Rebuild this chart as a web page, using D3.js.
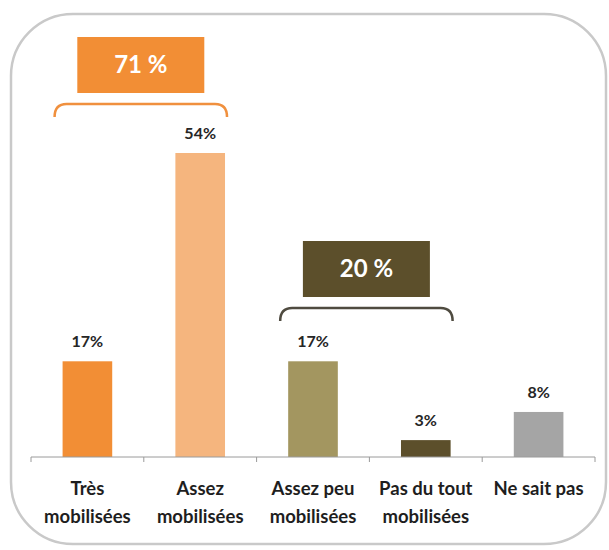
<!DOCTYPE html>
<html>
<head>
<meta charset="utf-8">
<script src="https://cdn.jsdelivr.net/npm/d3@7"></script>
<style>
  body { margin: 0; background: #fff; }
  text { font-family: Lato, "Open Sans", sans-serif; }
</style>
</head>
<body>
<div id="chart"></div>
<script>
const categories = [['Très', 'mobilisées'], ['Assez', 'mobilisées'], ['Assez peu', 'mobilisées'], ['Pas du tout', 'mobilisées'], ['Ne sait pas']]
const values = [17, 54, 17, 3, 8]
const colors = ['#F28E35', '#F5B57E', '#A39660', '#5C4F2B', '#A5A5A5']
const groups = [
  { label: '71 %', from: 0, to: 1, fill: '#F28E35', brace: '#F0903E', braceY: 104 },
  { label: '20 %', from: 2, to: 3, fill: '#5C4F2B', brace: '#4F4B40', braceY: 308 }
]

const w = 609, h = 550
const x0 = 31, x1 = 595, baseY = 457

const svg = d3.select('#chart').append('svg')
              .attr('width', w)
              .attr('height', h)

// rounded frame
svg.append('rect')
   .attr('x', 11).attr('y', 14)
   .attr('width', 595).attr('height', 530)
   .attr('rx', 62).attr('ry', 62)
   .attr('fill', 'none')
   .attr('stroke', '#c9c9c9')
   .attr('stroke-width', 2.5)

const xScale = d3.scaleBand()
                 .domain(d3.range(values.length))
                 .range([x0, x1])
                 .paddingInner(0.56)
                 .paddingOuter(0.28)

const yScale = d3.scaleLinear()
                 .domain([0, 54])
                 .range([baseY, 153])

svg.selectAll('rect.bar')
   .data(values)
   .enter()
   .append('rect')
   .attr('class', 'bar')
   .attr('x', (d, i) => xScale(i))
   .attr('y', d => yScale(d))
   .attr('width', xScale.bandwidth())
   .attr('height', d => baseY - yScale(d))
   .attr('fill', (d, i) => colors[i])

// axis line + ticks at category boundaries
const step = (x1 - x0) / values.length
svg.append('line')
   .attr('x1', x0).attr('x2', x1)
   .attr('y1', baseY).attr('y2', baseY)
   .attr('stroke', '#9a9a9a').attr('stroke-width', 1)
svg.selectAll('line.tick')
   .data(d3.range(values.length + 1))
   .enter()
   .append('line')
   .attr('class', 'tick')
   .attr('x1', i => x0 + i * step).attr('x2', i => x0 + i * step)
   .attr('y1', baseY).attr('y2', baseY + 5)
   .attr('stroke', '#9a9a9a').attr('stroke-width', 1)

// value labels
svg.selectAll('text.val')
   .data(values)
   .enter()
   .append('text')
   .attr('class', 'val')
   .attr('x', (d, i) => xScale(i) + xScale.bandwidth() / 2)
   .attr('y', d => yScale(d) - 14)
   .attr('text-anchor', 'middle')
   .attr('font-size', 16)
   .attr('font-weight', 'bold')
   .attr('fill', '#262626')
   .text(d => d + '%')

// category labels
const cat = svg.selectAll('text.cat')
   .data(categories)
   .enter()
   .append('text')
   .attr('class', 'cat')
   .attr('text-anchor', 'middle')
   .attr('font-size', 18.5)
   .attr('font-weight', 'bold')
   .attr('fill', '#1e1e1e')
cat.selectAll('tspan')
   .data((d, i) => d.map(t => ({ t, i })))
   .enter()
   .append('tspan')
   .attr('x', d => x0 + (d.i + 0.5) * step)
   .attr('y', (d, j) => 495 + j * 28)
   .text(d => d.t)

// group braces and boxes
groups.forEach(g => {
  const left = xScale(g.from) - 8
  const right = xScale(g.to) + xScale.bandwidth() + 2
  const braceY = g.braceY
  const r = 12
  svg.append('path')
     .attr('d', `M${left},${braceY + 13} Q${left},${braceY} ${left + r},${braceY} L${right - r},${braceY} Q${right},${braceY} ${right},${braceY + 13}`)
     .attr('fill', 'none')
     .attr('stroke', g.brace)
     .attr('stroke-width', 2.5)
  const cx = (left + right) / 2
  const boxW = 127, boxH = 56
  const boxY = braceY - 11 - boxH
  svg.append('rect')
     .attr('x', cx - boxW / 2).attr('y', boxY)
     .attr('width', boxW).attr('height', boxH)
     .attr('fill', g.fill)
  svg.append('text')
     .attr('x', cx).attr('y', boxY + boxH / 2 + 8)
     .attr('text-anchor', 'middle')
     .attr('font-size', 24)
     .attr('font-weight', 'bold')
     .attr('fill', '#fff')
     .text(g.label)
})
</script>
</body>
</html>
